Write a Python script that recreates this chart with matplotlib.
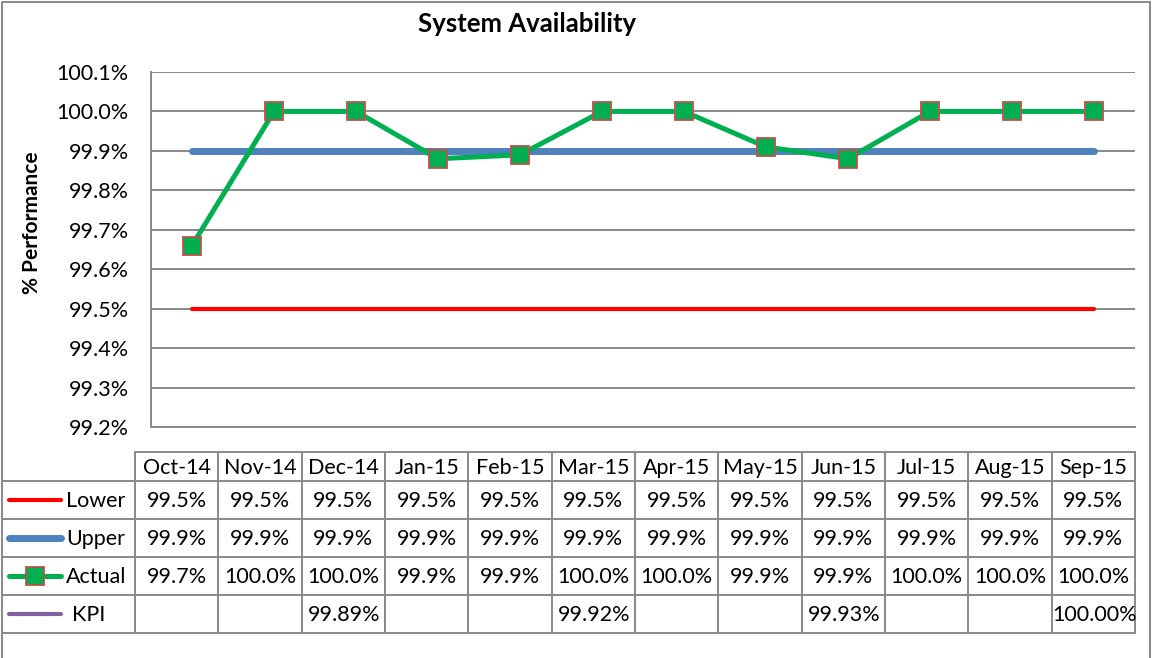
import matplotlib
matplotlib.use("Agg")
import matplotlib.pyplot as plt
from matplotlib.lines import Line2D
from matplotlib.patches import Rectangle
import numpy as np

plt.rcParams['font.family'] = ['Lato', 'DejaVu Sans']

# Данные
MONTHS = ['Oct-14', 'Nov-14', 'Dec-14', 'Jan-15', 'Feb-15', 'Mar-15',
          'Apr-15', 'May-15', 'Jun-15', 'Jul-15', 'Aug-15', 'Sep-15']
LOWER = [99.5] * 12
UPPER = [99.9] * 12
ACTUAL = [99.66, 100.0, 100.0, 99.88, 99.89, 100.0,
          100.0, 99.91, 99.88, 100.0, 100.0, 100.0]
KPI = [None, None, 99.89, None, None, 99.92,
       None, None, 99.93, None, None, 100.00]
Y_TICKS = [99.2, 99.3, 99.4, 99.5, 99.6, 99.7, 99.8, 99.9, 100.0, 100.1]

W, H = 1152, 658
GRID = '#898989'
RED = '#FF0000'
BLUE = '#4F81BD'
GREEN = '#00B050'
MRK_EDGE = '#C0504D'
PURPLE = '#8064A2'
FS = 15.5

fig = plt.figure(figsize=(W / 100, H / 100), dpi=100)

# область графика в пикселях
PL, PR, PT, PB = 151, 1135, 72, 427
ax = fig.add_axes([PL / W, 1 - PB / H, (PR - PL) / W, (PB - PT) / H])
x = np.arange(len(MONTHS))
ax.plot(x, LOWER, color=RED, lw=3, solid_capstyle='round', zorder=3)
ax.plot(x, UPPER, color=BLUE, lw=5, solid_capstyle='round', zorder=3)
kpi = np.array([np.nan if v is None else v for v in KPI])
ax.plot(x, kpi, color=PURPLE, lw=3, zorder=3)
ax.plot(x, ACTUAL, color=GREEN, lw=3.6, marker='s', ms=12.5,
        mfc=GREEN, mec=MRK_EDGE, mew=1.3, zorder=4)

ax.set_xlim(-0.5, len(MONTHS) - 0.5)
ax.set_ylim(99.2, 100.1)
ax.set_yticks(Y_TICKS)
ax.set_yticklabels([f'{t:.1f}%' for t in Y_TICKS], fontsize=FS)
ax.set_xticks([])
ax.tick_params(axis='y', length=0, pad=16)
ax.grid(axis='y', color=GRID, lw=1.4)
ax.set_axisbelow(True)
for s in ['top', 'right']:
    ax.spines[s].set_visible(False)
for s in ['left', 'bottom']:
    ax.spines[s].set_color(GRID)
    ax.spines[s].set_linewidth(1.4)

# накладка для таблицы и рамки, координаты в пикселях
ov = fig.add_axes([0, 0, 1, 1], zorder=-1)
ov.set_xlim(0, W)
ov.set_ylim(H, 0)
ov.axis('off')
ov2 = fig.add_axes([0, 0, 1, 1])
ov2.set_xlim(0, W)
ov2.set_ylim(H, 0)
ov2.axis('off')
ov2.patch.set_alpha(0)

ov.add_patch(Rectangle((1.5, 1.5), 1148, 700, fill=False, ec=GRID, lw=1.4))

fig.text(527 / W, 1 - 24 / H, 'System Availability', ha='center', va='center',
         fontsize=18.5, fontweight='bold')
fig.text(32 / W, 1 - 223 / H, '% Performance', ha='center', va='center',
         rotation=90, fontsize=15, fontweight='bold')

TL, TR = 135, 1135
rows = [452, 481, 519, 557, 595, 633]
cw = (TR - TL) / len(MONTHS)
col_edges = [TL + i * cw for i in range(len(MONTHS) + 1)]
lc = dict(color=GRID, lw=1.4)
ov2.plot([TL, TR], [rows[0], rows[0]], **lc)
for r in rows[1:]:
    ov2.plot([1.5, TR], [r, r], **lc)
for cx in col_edges:
    ov2.plot([cx, cx], [rows[0], rows[-1]], **lc)

def mid(i):
    return (rows[i] + rows[i + 1]) / 2

for i, m in enumerate(MONTHS):
    cx = TL + (i + 0.5) * cw
    ov2.text(cx, mid(0) + 1, m, ha='center', va='center', fontsize=FS)
    ov2.text(cx, mid(1) + 1, f'{LOWER[i]:.1f}%', ha='center', va='center', fontsize=FS)
    ov2.text(cx, mid(2) + 1, f'{UPPER[i]:.1f}%', ha='center', va='center', fontsize=FS)
    ov2.text(cx, mid(3) + 1, f'{ACTUAL[i]:.1f}%', ha='center', va='center', fontsize=FS)
    if KPI[i] is not None:
        ov2.text(cx + 1, mid(4) + 1, f'{KPI[i]:.2f}%', ha='center', va='center', fontsize=FS)

# легенда в таблице
ov2.add_line(Line2D([9, 61], [mid(1), mid(1)], color=RED, lw=3, solid_capstyle='round'))
ov2.add_line(Line2D([9, 61], [mid(2), mid(2)], color=BLUE, lw=5, solid_capstyle='round'))
ov2.add_line(Line2D([9, 61], [mid(3), mid(3)], color=GREEN, lw=3.6, solid_capstyle='round'))
ov2.add_line(Line2D([35], [mid(3)], marker='s', ms=12.5, mfc=GREEN, mec=MRK_EDGE, mew=1.3))
ov2.add_line(Line2D([9, 61], [mid(4), mid(4)], color=PURPLE, lw=3, solid_capstyle='round'))
for i, name, lx in [(1, 'Lower', 66), (2, 'Upper', 66), (3, 'Actual', 66), (4, 'KPI', 72)]:
    ov2.text(lx, mid(i) + 1, name, ha='left', va='center', fontsize=FS)

fig.savefig('out.png', dpi=100)
